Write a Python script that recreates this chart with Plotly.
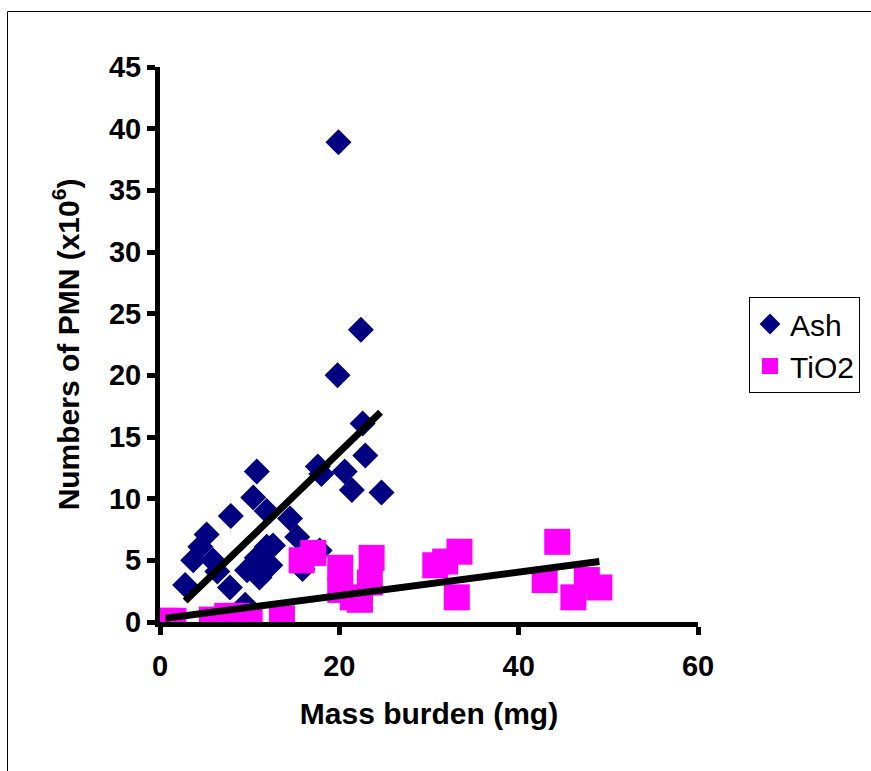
import plotly.graph_objects as go

# Ash data (mass burden mg, PMN x10^6)
ash_x = [2.8, 3.7, 4.5, 5.2, 5.9, 6.4, 7.8, 7.9, 9.5, 9.7, 10.4, 10.8, 10.8, 11.1,
         11.9, 11.9, 12.3, 12.6, 14.5, 15.3, 15.9, 17.8, 17.6, 18.0, 19.8, 19.9,
         20.6, 21.4, 22.4, 22.6, 22.9, 24.7]
ash_y = [3.0, 5.0, 6.1, 7.1, 5.0, 4.1, 2.8, 8.6, 1.4, 4.2, 10.1, 12.2, 5.2, 3.6,
         9.0, 6.1, 4.6, 6.2, 8.4, 6.9, 4.3, 5.8, 12.6, 12.0, 20.0, 38.9,
         12.2, 10.7, 23.7, 16.1, 13.5, 10.5]

# TiO2 data
tio2_x = [0.5, 1.5, 5.8, 7.5, 8.5, 10.0, 13.6, 15.8, 17.1, 20.1, 20.1, 21.5, 22.3,
          23.4, 23.6, 30.7, 31.8, 33.4, 33.1, 42.9, 44.3, 46.1, 47.6, 49.0]
tio2_y = [0.1, 0.1, 0.2, 0.5, 0.5, 0.2, 0.3, 5.0, 5.6, 4.4, 2.6, 2.0, 1.8,
          3.2, 5.2, 4.6, 4.9, 5.7, 2.0, 3.4, 6.5, 2.0, 3.4, 2.8]

# Trend line endpoints
ash_trend_x = [2.8, 24.6]
ash_trend_y = [1.7, 17.0]
tio2_trend_x = [0.6, 49.0]
tio2_trend_y = [0.3, 4.9]

x_ticks = [0, 20, 40, 60]
y_ticks = [0, 5, 10, 15, 20, 25, 30, 35, 40, 45]

FONT = "Liberation Sans, Arial, sans-serif"

fig = go.Figure()
fig.add_trace(go.Scatter(x=ash_x, y=ash_y, mode="markers", name="Ash",
                         marker=dict(symbol="diamond", size=20, color="#000080",
                                     line=dict(width=0))))
fig.add_trace(go.Scatter(x=tio2_x, y=tio2_y, mode="markers", name="TiO2",
                         marker=dict(symbol="square", size=26, color="#FF00FF",
                                     line=dict(width=0))))
fig.add_trace(go.Scatter(x=ash_trend_x, y=ash_trend_y, mode="lines", showlegend=False,
                         line=dict(color="black", width=7)))
fig.add_trace(go.Scatter(x=tio2_trend_x, y=tio2_trend_y, mode="lines", showlegend=False,
                         line=dict(color="black", width=7)))

L, R, T, B = 160, 173, 67, 149
W, H = 871, 771
pw, ph = W - L - R, H - T - B

def px2paper_x(px):
    return (px - L) / pw

def py2paper_y(py):
    return (H - B - py) / ph

fig.update_layout(
    width=W, height=H,
    margin=dict(l=L, r=R, t=T, b=B, pad=0, autoexpand=False),
    paper_bgcolor="white", plot_bgcolor="white",
    font=dict(family=FONT, color="black"),
    showlegend=True,
    legend=dict(x=px2paper_x(749), y=py2paper_y(297), xanchor="left", yanchor="top",
                bordercolor="black", borderwidth=1, bgcolor="white",
                font=dict(size=30, family=FONT), itemsizing="trace",
                tracegroupgap=0),
    xaxis=dict(range=[0, 60], tickvals=x_ticks, showgrid=False, zeroline=False,
               showline=True, linecolor="black", linewidth=5,
               ticks="outside", ticklen=8, tickwidth=5, tickcolor="black",
               ticklabelstandoff=6,
               tickfont=dict(size=29, family=FONT, weight="bold"),
               title=dict(text="<b>Mass burden (mg)</b>", font=dict(size=30, family=FONT),
                          standoff=24)),
    yaxis=dict(range=[0, 45], tickvals=y_ticks, showgrid=False, zeroline=False,
               showline=True, linecolor="black", linewidth=5,
               ticks="outside", ticklen=8, tickwidth=5, tickcolor="black",
               tickfont=dict(size=29, family=FONT, weight="bold"),
               title=dict(text="<b>Numbers of PMN (x10<sup>6</sup>)</b>",
                          font=dict(size=30, family=FONT), standoff=22)),
    shapes=[
        dict(type="line", xref="paper", yref="paper",
             x0=px2paper_x(7.5), x1=px2paper_x(880), y0=py2paper_y(11.5), y1=py2paper_y(11.5),
             line=dict(color="black", width=1)),
        dict(type="line", xref="paper", yref="paper",
             x0=px2paper_x(7.5), x1=px2paper_x(7.5), y0=py2paper_y(11.5), y1=py2paper_y(780),
             line=dict(color="black", width=1)),
    ],
)

fig.write_html("out.html", config={"displayModeBar": False},
               post_script="document.body.style.margin='0px';")
